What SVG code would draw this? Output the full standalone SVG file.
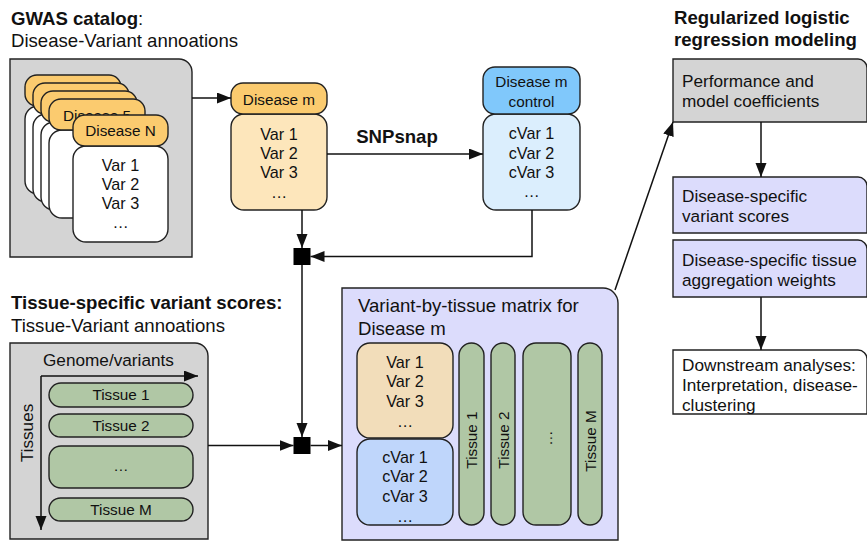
<svg xmlns="http://www.w3.org/2000/svg" width="867" height="542" viewBox="0 0 867 542">
  <defs>
    <marker id="arrow" markerUnits="userSpaceOnUse" markerWidth="15" markerHeight="12" refX="14" refY="5.5" orient="auto">
      <path d="M0,0 L14,5.5 L0,11 Z" fill="#111"/>
    </marker>
    <style>
      text { font-family: "Liberation Sans", Arial, Helvetica, sans-serif; fill: #111; }
      .title { font-size: 18.6px; }
      .bold { font-weight: bold; }
      .node { font-size: 15.3px; text-anchor: middle; }
      .list { font-size: 16.2px; text-anchor: middle; }
      .side { font-size: 17.2px; }
      .box { stroke: #222; stroke-width: 1.4; }
      .gray { fill: #d4d4d4; }
      .orange { fill: #fbcb6f; }
      .orangeLight { fill: #fde6bb; }
      .white { fill: #ffffff; }
      .blue { fill: #80c8fb; }
      .blueLight { fill: #dbeefd; }
      .lavender { fill: #dcdcfc; }
      .tan { fill: #f2ddba; }
      .cvar { fill: #bfd6fb; }
      .green { fill: #b0c7a5; }
      .wire { fill: none; stroke: #111; stroke-width: 1.5; }
    </style>
  </defs>

  <!-- GWAS catalog panel -->
  <g id="gwas-catalog">
    <text class="title" x="11" y="25"><tspan class="bold">GWAS catalog</tspan>:</text>
    <text class="title" x="11" y="47">Disease-Variant annoations</text>
    <path class="box gray" d="M10,59 H179 A13,13 0 0 1 192,72 V257 H10 Z"/>
    <!-- stacked disease cards, back to front -->
    <g id="card-stack">
      <rect class="box white" x="25" y="106" width="96" height="88" rx="13"/>
      <rect class="box orange" x="25" y="75" width="96" height="31" rx="12"/>
      <rect class="box white" x="33" y="114" width="96" height="88" rx="13"/>
      <rect class="box orange" x="33" y="83" width="96" height="31" rx="12"/>
      <rect class="box white" x="41" y="122" width="96" height="88" rx="13"/>
      <rect class="box orange" x="41" y="91" width="96" height="31" rx="12"/>
      <rect class="box white" x="49" y="130" width="96" height="88" rx="13"/>
      <rect class="box orange" x="49" y="99" width="96" height="31" rx="12"/>
      <text class="node" x="97" y="121">Disease 5</text>
      <rect class="box white" x="73" y="146" width="95" height="96" rx="13"/>
      <rect class="box orange" x="73" y="115" width="95" height="31" rx="12"/>
      <text class="node" x="120.5" y="136">Disease N</text>
      <text class="list" x="120.5" y="171">Var 1</text>
      <text class="list" x="120.5" y="190">Var 2</text>
      <text class="list" x="120.5" y="209">Var 3</text>
      <text class="list" x="120.5" y="228">…</text>
    </g>
  </g>

  <!-- Disease m variants -->
  <g id="disease-m">
    <rect class="box orangeLight" x="231" y="114" width="96" height="96" rx="13"/>
    <rect class="box orange" x="231" y="83" width="96" height="31" rx="12"/>
    <text class="node" x="279" y="105">Disease m</text>
    <text class="list" x="279" y="140">Var 1</text>
    <text class="list" x="279" y="159">Var 2</text>
    <text class="list" x="279" y="178">Var 3</text>
    <text class="list" x="279" y="198">…</text>
  </g>

  <!-- Disease m control variants -->
  <g id="disease-m-control">
    <rect class="box blueLight" x="483" y="114" width="97" height="96" rx="13"/>
    <rect class="box blue" x="483" y="67" width="97" height="47" rx="12"/>
    <text class="node" x="531.5" y="87">Disease m</text>
    <text class="node" x="531.5" y="107">control</text>
    <text class="list" x="531.5" y="139">cVar 1</text>
    <text class="list" x="531.5" y="159">cVar 2</text>
    <text class="list" x="531.5" y="178">cVar 3</text>
    <text class="list" x="531.5" y="197">…</text>
  </g>

  <!-- Tissue-specific variant scores panel -->
  <g id="tissue-scores">
    <text class="title bold" x="11" y="309">Tissue-specific variant scores:</text>
    <text class="title" x="11" y="332">Tissue-Variant annoations</text>
    <path class="box gray" d="M10,343 H195 A13,13 0 0 1 208,356 V539 H10 Z"/>
    <text class="side" x="43" y="366">Genome/variants</text>
    <text class="side" transform="translate(33,433) rotate(-90)" text-anchor="middle">Tissues</text>
    <path class="wire" d="M41,376 H198" marker-end="url(#arrow)"/>
    <path class="wire" d="M41,376 V530" marker-end="url(#arrow)"/>
    <rect class="box green" x="49" y="383" width="144" height="24" rx="12"/>
    <text class="node" x="121" y="400">Tissue 1</text>
    <rect class="box green" x="49" y="414" width="144" height="23" rx="11.5"/>
    <text class="node" x="121" y="431">Tissue 2</text>
    <rect class="box green" x="49" y="446" width="144" height="42" rx="12"/>
    <text class="node" x="121" y="471">…</text>
    <rect class="box green" x="49" y="498" width="144" height="23" rx="11.5"/>
    <text class="node" x="121" y="515">Tissue M</text>
  </g>

  <!-- Variant-by-tissue matrix -->
  <g id="matrix">
    <path class="box lavender" d="M342,288 H603 A15,15 0 0 1 618,303 V540 H342 Z"/>
    <text class="title" x="358" y="312">Variant-by-tissue matrix for</text>
    <text class="title" x="358" y="335">Disease m</text>
    <rect class="box tan" x="357" y="343" width="96" height="95" rx="13"/>
    <text class="list" x="405" y="368">Var 1</text>
    <text class="list" x="405" y="387">Var 2</text>
    <text class="list" x="405" y="407">Var 3</text>
    <text class="list" x="405" y="427">…</text>
    <rect class="box cvar" x="357" y="439" width="96" height="86" rx="13"/>
    <text class="list" x="405" y="463">cVar 1</text>
    <text class="list" x="405" y="482">cVar 2</text>
    <text class="list" x="405" y="502">cVar 3</text>
    <text class="list" x="405" y="522">…</text>
    <rect class="box green" x="459" y="343" width="25" height="182" rx="12.5"/>
    <text class="node" transform="translate(477,440) rotate(-90)">Tissue 1</text>
    <rect class="box green" x="491" y="343" width="24" height="182" rx="12"/>
    <text class="node" transform="translate(509,440) rotate(-90)">Tissue 2</text>
    <rect class="box green" x="523" y="343" width="48" height="182" rx="13"/>
    <text class="node" transform="translate(552,438) rotate(-90)">…</text>
    <rect class="box green" x="578" y="343" width="24" height="182" rx="12"/>
    <text class="node" transform="translate(596,441) rotate(-90)">Tissue M</text>
  </g>

  <!-- Regularized logistic regression modeling -->
  <g id="regression">
    <text class="title bold" x="674" y="24">Regularized logistic</text>
    <text class="title bold" x="674" y="46">regression modeling</text>
  </g>
  <g id="performance">
    <path class="box gray" d="M673,59 H858 A9,9 0 0 1 867,68 V122 H673 Z"/>
    <text class="side" x="682" y="87">Performance and</text>
    <text class="side" x="682" y="107">model coefficients</text>
  </g>
  <g id="variant-scores">
    <path class="box lavender" d="M673,177 H858 A9,9 0 0 1 867,186 V233 H673 Z"/>
    <text class="side" x="682" y="202">Disease-specific</text>
    <text class="side" x="682" y="222">variant scores</text>
  </g>
  <g id="tissue-weights">
    <path class="box lavender" d="M673,240 H858 A9,9 0 0 1 867,249 V297 H673 Z"/>
    <text class="side" x="682" y="266">Disease-specific tissue</text>
    <text class="side" x="682" y="286">aggregation weights</text>
  </g>
  <g id="downstream">
    <path class="box white" d="M673,350 H858 A9,9 0 0 1 867,359 V414 H673 Z"/>
    <text class="side" x="682" y="371">Downstream analyses:</text>
    <text class="side" x="682" y="391">Interpretation, disease-</text>
    <text class="side" x="682" y="411">clustering</text>
  </g>

  <!-- Junctions -->
  <g id="junction-top">
    <rect x="293.5" y="248" width="17" height="17" fill="#000"/>
  </g>
  <g id="junction-bottom">
    <rect x="293.5" y="437" width="17" height="17" fill="#000"/>
  </g>

  <!-- Connectors -->
  <g id="connectors">
    <path class="wire" d="M192,98 H231" marker-end="url(#arrow)"/>
    <path class="wire" d="M327,154 H483" marker-end="url(#arrow)"/>
    <text class="title bold" x="397" y="143" text-anchor="middle">SNPsnap</text>
    <path class="wire" d="M302,210 V248" marker-end="url(#arrow)"/>
    <path class="wire" d="M532,210 V256.5 H310.5" marker-end="url(#arrow)"/>
    <path class="wire" d="M302,265 V437" marker-end="url(#arrow)"/>
    <path class="wire" d="M208,445.5 H293.5" marker-end="url(#arrow)"/>
    <path class="wire" d="M310.5,445.5 H342" marker-end="url(#arrow)"/>
    <path class="wire" d="M615,290 L673,122" marker-end="url(#arrow)"/>
    <path class="wire" d="M761,122 V177" marker-end="url(#arrow)"/>
    <path class="wire" d="M761,297 V350" marker-end="url(#arrow)"/>
  </g>
</svg>
